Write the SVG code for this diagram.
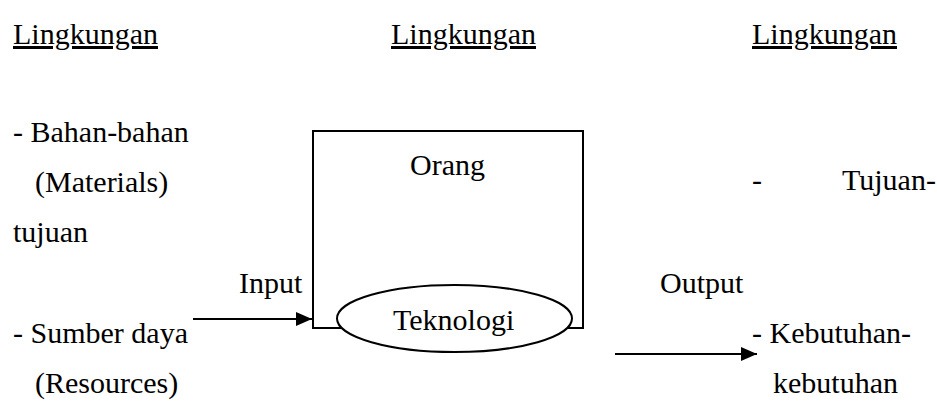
<svg xmlns="http://www.w3.org/2000/svg" width="937" height="403" viewBox="0 0 937 403">
<defs>
<style>
text{font-family:"Liberation Serif","Times New Roman",serif;font-size:30px;fill:#000}
.u{text-decoration:underline}
.ln{stroke:#000;stroke-width:2;fill:none}
</style>
<marker id="ah" viewBox="0 0 16 14" refX="16" refY="7" markerWidth="16" markerHeight="14" markerUnits="userSpaceOnUse" orient="auto">
<path d="M0,0 L16,7 L0,14 Z" fill="#000"/>
</marker>
</defs>
<rect width="937" height="403" fill="#fff"/>
<g id="headers">
<text class="u" x="13" y="44">Lingkungan</text>
<text class="u" x="391" y="44">Lingkungan</text>
<text class="u" x="752" y="44">Lingkungan</text>
</g>
<g id="inputs">
<text x="13" y="142">- Bahan-bahan</text>
<text x="35" y="192">(Materials)</text>
<text x="13" y="242">tujuan</text>
<text x="13" y="343">- Sumber daya</text>
<text x="35" y="393">(Resources)</text>
</g>
<g id="outputs">
<text x="752" y="190">-</text>
<text x="842" y="190">Tujuan-</text>
<text x="752" y="343">- Kebutuhan-</text>
<text x="773" y="393">kebutuhan</text>
</g>
<g id="system">
<rect class="ln" x="313" y="131" width="270" height="197"/>
<text x="410" y="175">Orang</text>
</g>
<g id="technology">
<ellipse cx="454.5" cy="318.5" rx="117.5" ry="33.5" fill="#fff" stroke="#000" stroke-width="2"/>
<text x="393" y="330">Teknologi</text>
</g>
<g id="connectors">
<line class="ln" x1="193" y1="319" x2="312" y2="319" marker-end="url(#ah)"/>
<line class="ln" x1="615" y1="354" x2="757" y2="354" marker-end="url(#ah)"/>
<text x="239" y="293">Input</text>
<text x="660" y="293">Output</text>
</g>
</svg>
